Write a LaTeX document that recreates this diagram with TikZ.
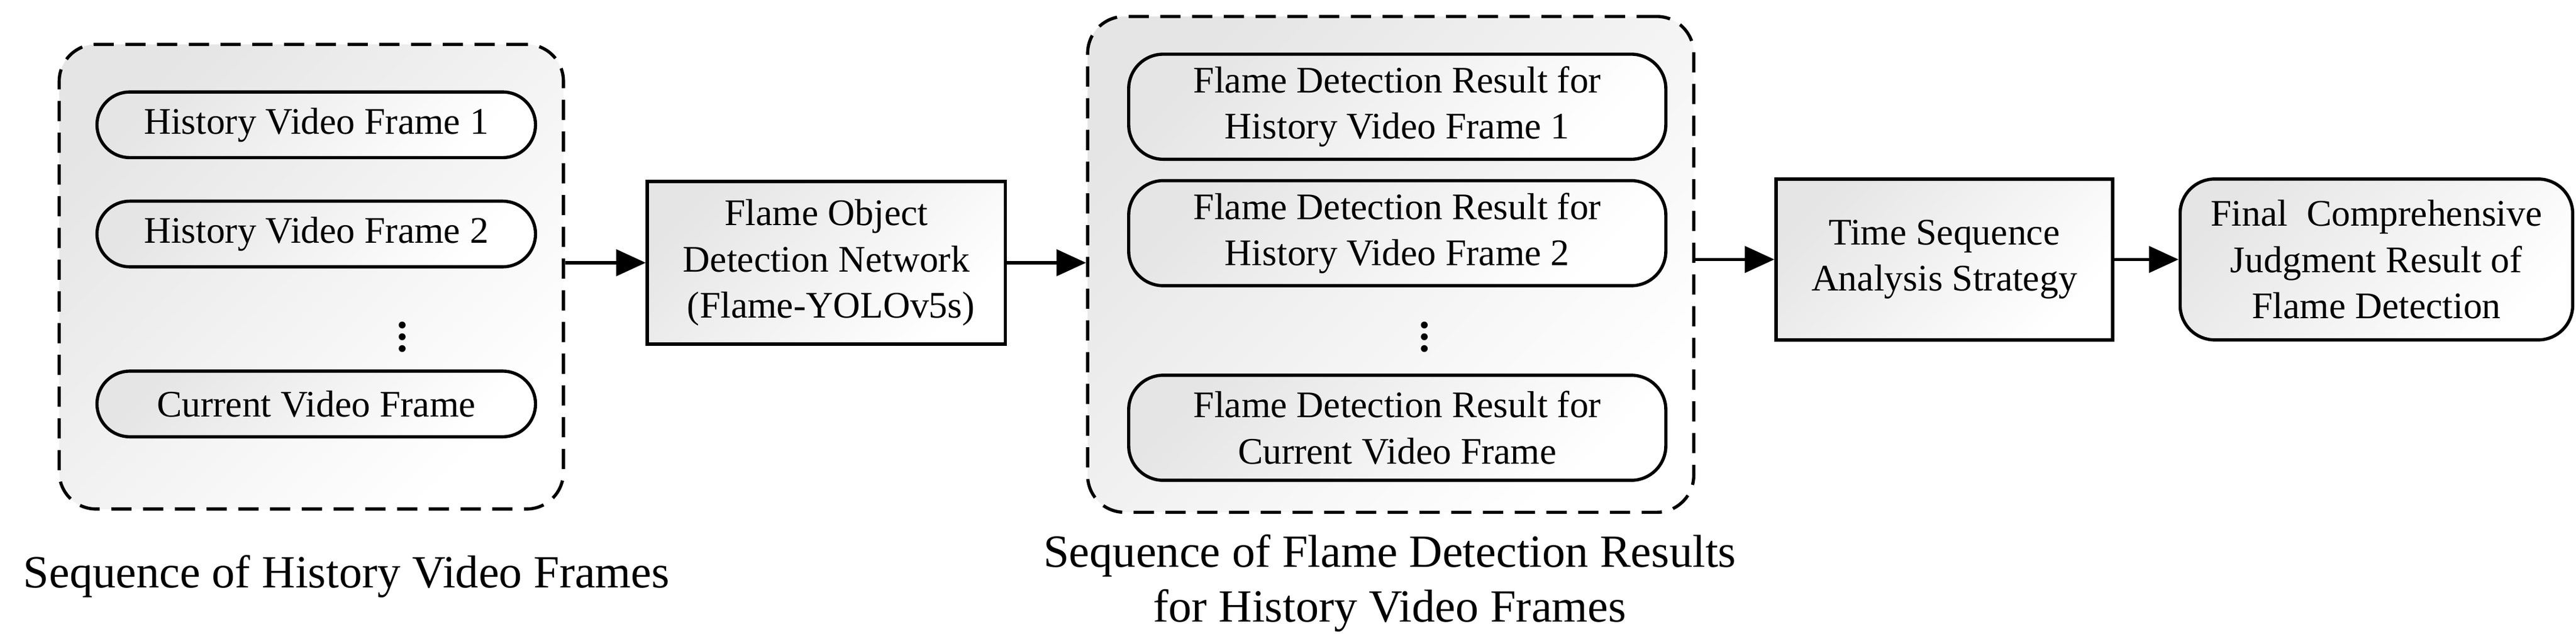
\documentclass[tikz,border=0pt]{standalone}
\usepackage{fontspec}
\setmainfont{Liberation Serif}
\usetikzlibrary{arrows.meta,positioning}

\tikzset{
  shadefill/.style={top color=black!10, bottom color=white, shading angle=45},
  group/.style={draw, dashed, dash pattern=on 7pt off 4pt, line width=1.1pt,
    rounded corners=0.45cm, shadefill},
  pill/.style={draw, line width=1.1pt, shadefill, align=center,
    font=\fontsize{13}{16}\selectfont, inner sep=0pt},
  block/.style={draw, line width=1.1pt, shadefill, align=center,
    font=\fontsize{13}{16}\selectfont, inner sep=0pt},
  caption/.style={align=center, font=\fontsize{16}{19}\selectfont},
  dots/.style={font=\fontsize{20}{20}\selectfont, inner sep=0pt},
  flow/.style={line width=1.1pt, -{Triangle[length=0.36cm,width=0.32cm]}},
}

\begin{document}
\begin{tikzpicture}[x=0.02cm,y=-0.02cm]
  \useasboundingbox (0,0) rectangle (1568,392);

  % history frames
  \node[group, minimum width=6.14cm, minimum height=5.66cm] (grpHist) at (189.5,168.5) {};
  \node[pill, rounded corners=0.4cm, minimum width=5.34cm, minimum height=0.8cm] (hist1) at (192.5,76) {History Video Frame 1};
  \node[pill, rounded corners=0.4cm, minimum width=5.34cm, minimum height=0.8cm] (hist2) at (192.5,142.5) {History Video Frame 2};
  \node[dots] (histDots) at (245,200) {$\vdots$};
  \node[pill, rounded corners=0.4cm, minimum width=5.34cm, minimum height=0.8cm] (histCur) at (192.5,246) {Current Video Frame};
  \node[caption] (capHist) at (211,351) {Sequence of History Video Frames};

  % detector
  \node[block, minimum width=4.36cm, minimum height=1.98cm] (flame) at (503,160)
    {Flame Object\\Detection Network\\~(Flame-YOLOv5s)};

  % detection results
  \node[group, minimum width=7.38cm, minimum height=6.04cm] (grpRes) at (846.5,161) {};
  \node[pill, rounded corners=0.42cm, minimum width=6.54cm, minimum height=1.28cm] (res1) at (850.5,65)
    {Flame Detection Result for\\History Video Frame 1};
  \node[pill, rounded corners=0.42cm, minimum width=6.54cm, minimum height=1.28cm] (res2) at (850.5,142)
    {Flame Detection Result for\\History Video Frame 2};
  \node[dots] (resDots) at (867,200) {$\vdots$};
  \node[pill, rounded corners=0.42cm, minimum width=6.54cm, minimum height=1.28cm] (resCur) at (850.5,260.5)
    {Flame Detection Result for\\Current Video Frame};
  \node[caption] (capRes) at (846,355) {Sequence of Flame Detection Results\\for History Video Frames};

  % analysis and result
  \node[block, minimum width=4.1cm, minimum height=1.96cm] (timeSeq) at (1183.5,158)
    {Time Sequence\\Analysis Strategy};
  \node[block, rounded corners=0.42cm, minimum width=4.78cm, minimum height=1.96cm] (final) at (1446.5,158)
    {Final~~Comprehensive\\Judgment Result of\\Flame Detection};

  \draw[flow] (flame.west -| grpHist.east) -- (flame.west);
  \draw[flow] (flame.east) -- (flame.east -| grpRes.west);
  \draw[flow] (timeSeq.west -| grpRes.east) -- (timeSeq.west);
  \draw[flow] (timeSeq.east) -- (final.west);
\end{tikzpicture}
\end{document}
